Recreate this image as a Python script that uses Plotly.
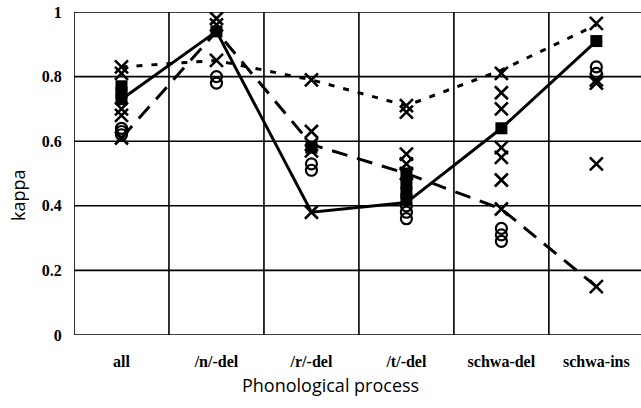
import plotly.graph_objects as go

categories = ["all", "/n/-del", "/r/-del", "/t/-del", "schwa-del", "schwa-ins"]
y_ticks = [0, 0.2, 0.4, 0.6, 0.8, 1.0]
y_tick_text = ["0", "0.2", "0.4", "0.6", "0.8", "1"]

# Summary lines
solid_vals = [0.73, 0.94, 0.38, 0.41, 0.64, 0.91]
dashed_vals = [0.61, 0.94, 0.59, 0.50, 0.39, 0.15]
dotted_vals = [0.83, 0.85, 0.79, 0.71, 0.82, 0.96]

# Individual points per category
x_points = {
    "all": [0.83, 0.81, 0.70, 0.68, 0.61],
    "/n/-del": [0.98, 0.96, 0.85],
    "/r/-del": [0.63, 0.79, 0.59, 0.57, 0.38],
    "/t/-del": [0.71, 0.69, 0.56, 0.53, 0.50],
    "schwa-del": [0.81, 0.75, 0.70, 0.58, 0.55, 0.48, 0.39],
    "schwa-ins": [0.965, 0.79, 0.78, 0.53, 0.15],
}
circle_points = {
    "all": [0.64, 0.63, 0.62],
    "/n/-del": [0.80, 0.78],
    "/r/-del": [0.53, 0.51],
    "/t/-del": [0.40, 0.38, 0.36],
    "schwa-del": [0.33, 0.31, 0.29],
    "schwa-ins": [0.83, 0.81],
}
square_points = {
    "all": [0.77, 0.75, 0.73],
    "/n/-del": [0.94],
    "/r/-del": [0.58],
    "/t/-del": [0.50, 0.47, 0.44, 0.42],
    "schwa-del": [0.64],
    "schwa-ins": [0.91],
}

idx = list(range(len(categories)))
x_bounds = [i - 0.5 for i in range(len(categories) + 1)]
x_range = [-0.5, 5.47]


def flatten(d):
    xs, ys = [], []
    for i, c in enumerate(categories):
        for v in d.get(c, []):
            xs.append(i)
            ys.append(v)
    return xs, ys


fig = go.Figure()

fig.add_trace(go.Scatter(x=idx, y=dotted_vals, mode="lines",
                         line=dict(color="black", width=3, dash="6px,9px")))
fig.add_trace(go.Scatter(x=idx, y=dashed_vals, mode="lines",
                         line=dict(color="black", width=3, dash="16px,10px")))
fig.add_trace(go.Scatter(x=idx, y=solid_vals, mode="lines",
                         line=dict(color="black", width=3)))

cx, cy = flatten(circle_points)
fig.add_trace(go.Scatter(x=cx, y=cy, mode="markers",
                         marker=dict(symbol="circle-open", size=11, color="black",
                                     line=dict(width=2.2, color="black"))))
sx, sy = flatten(square_points)
fig.add_trace(go.Scatter(x=sx, y=sy, mode="markers",
                         marker=dict(symbol="square", size=12, color="black")))
xx, xy = flatten(x_points)
fig.add_trace(go.Scatter(x=xx, y=xy, mode="markers",
                         marker=dict(symbol="x-thin-open", size=13, color="black",
                                     line=dict(width=2.6, color="black"))))

# Grid lines (structure from tick positions)
shapes = []
for xb in x_bounds:
    shapes.append(dict(type="line", xref="x", yref="y", x0=xb, x1=xb, y0=0, y1=1,
                       line=dict(color="black", width=1.6), layer="below"))
for yv in y_ticks:
    shapes.append(dict(type="line", xref="x", yref="y", x0=x_range[0], x1=x_range[1],
                       y0=yv, y1=yv, line=dict(color="black", width=1.6), layer="below"))

serif_bold = dict(family="Liberation Serif", size=16, color="black", weight="bold")

fig.update_layout(
    width=641, height=408,
    margin=dict(l=74, r=0, t=12, b=73),
    paper_bgcolor="white", plot_bgcolor="white",
    showlegend=False,
    shapes=shapes,
    xaxis=dict(
        range=x_range, automargin=False,
        tickmode="array", tickvals=idx, ticktext=categories,
        showgrid=False, zeroline=False, showline=False,
        ticks="outside", ticklen=12, tickcolor="rgba(0,0,0,0)",
        tickfont=serif_bold,
    ),
    yaxis=dict(
        range=[0, 1], automargin=False,
        tickmode="array", tickvals=y_ticks, ticktext=y_tick_text,
        showgrid=False, zeroline=False, showline=False,
        ticks="outside", ticklen=8, tickcolor="rgba(0,0,0,0)",
        tickfont=serif_bold,
    ),
    annotations=[
        dict(text="Phonological process", xref="paper", yref="paper",
             x=0.453, y=-0.155, xanchor="center", yanchor="middle",
             showarrow=False, font=dict(family="Open Sans", size=18, color="#000000")),
        dict(text="kappa", xref="paper", yref="paper",
             x=-0.099, y=0.433, xanchor="center", yanchor="middle", textangle=-90,
             showarrow=False, font=dict(family="Open Sans", size=18, color="#000000")),
    ],
)

fig.write_html("out.html",
               config={"displayModeBar": False},
               post_script="document.body.style.margin='0';document.body.style.overflow='hidden';")
